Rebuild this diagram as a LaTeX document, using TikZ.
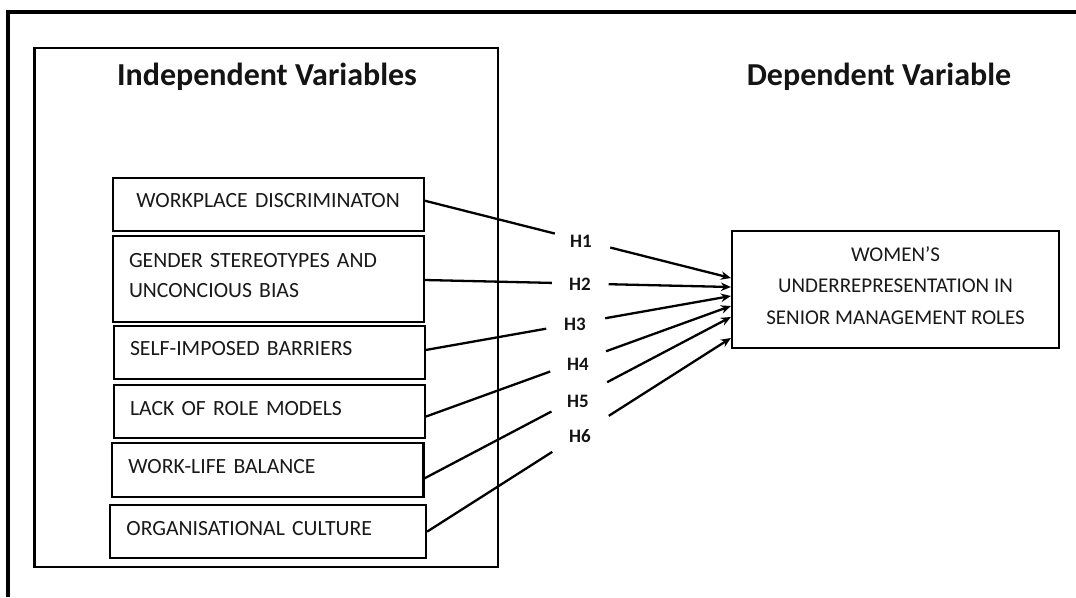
\documentclass[tikz,border=0pt]{standalone}
\usepackage{fontspec}
\setmainfont{Carlito}
\usetikzlibrary{calc,arrows.meta}
\newcommand\myTightSpace{\spaceskip=3.7pt plus 0.5pt\relax}
\tikzset{
  varbox/.style={draw=black, line width=2.2pt, minimum height=#1, inner xsep=16.4pt, inner ysep=0pt,
    text depth=7pt, font={\fontsize{21.7}{30.3}\selectfont\myTightSpace}, text=black!90},
  varbox/.default=53pt,
  lbox/.style={align=left},
  hlab/.style={font=\bfseries\fontsize{19}{22}\selectfont, text=black!92},
  conn/.style={line width=2.3pt},
  arr/.style={line width=2.3pt, -{Stealth[length=10pt,width=8.5pt]}},
  title/.style={font=\bfseries\fontsize{32}{36}\selectfont, text=black!92}
}
\begin{document}
\begin{tikzpicture}[x=1pt,y=-1pt]
\useasboundingbox (0,0) rectangle (1076,597);
\fill[white] (0,0) rectangle (1076,597);
% outer frame (top and left only)
\draw[line width=4pt] (1076,12) -- (7.7,12) -- (7.7,597);
% big box
\draw[line width=2.2pt] (34.4,48.3) rectangle (498.3,567);
\node[title] (tind) at (267,77) {Independent Variables};
\node[title] (tdep) at (879,77) {Dependent Variable};
% independent variable boxes
\node[varbox=53pt, text width=278.2pt, align=center] (b1) at (268.1,204.2) {WORKPLACE DISCRIMINATON};
\node[varbox=86pt, text width=278.2pt, lbox, text depth=37.3pt] (b2) at (268.1,278.7) {GENDER STEREOTYPES AND\\UNCONCIOUS BIAS};
\node[varbox=53.3pt, text width=278.2pt, lbox] (b3) at (269.1,352.35) {SELF-IMPOSED BARRIERS};
\node[varbox=53.3pt, text width=278.2pt, lbox] (b4) at (269.1,411.65) {LACK OF ROLE MODELS};
\node[varbox=54pt, text width=278.7pt, lbox] (b5) at (267.75,470.3) {WORK-LIFE BALANCE};
\node[varbox=53.3pt, text width=283.2pt, lbox] (b6) at (268,531.65) {ORGANISATIONAL CULTURE};
% dependent variable box
\node[draw=black, line width=2.2pt, minimum width=327pt, minimum height=117pt, align=center,
  text depth=8pt, font=\fontsize{21}{31.5}\selectfont, text=black!90] (tgt) at (895.5,289.5)
  {WOMEN’S\\UNDERREPRESENTATION IN\\SENIOR MANAGEMENT ROLES};
% connector ends
\coordinate (s1) at ([yshift=3.5pt]b1.east);
\coordinate (s2) at ([yshift=-1.3pt]b2.east);
\coordinate (s3) at ([yshift=2.35pt]b3.east);
\coordinate (s4) at ([yshift=-5pt]b4.east);
\coordinate (s5) at ([yshift=-8pt]b5.east);
\coordinate (s6) at ([yshift=0pt]b6.east);
\coordinate (t1) at (tgt.west |- 0,278);
\coordinate (t2) at (tgt.west |- 0,287);
\coordinate (t3) at (tgt.west |- 0,296);
\coordinate (t4) at (tgt.west |- 0,306);
\coordinate (t5) at (tgt.west |- 0,317);
\coordinate (t6) at (tgt.west |- 0,338);
% connectors with gaps for labels
\foreach \i/\a/\b in {1/0.425/0.606, 2/0.415/0.601, 3/0.395/0.588, 4/0.408/0.591, 5/0.414/0.596, 6/0.412/0.598}{
  \draw[conn] (s\i) -- ($(s\i)!\a!(t\i)$);
  \draw[arr] ($(s\i)!\b!(t\i)$) -- (t\i);
}
\node[hlab] (h1) at (581,241) {H1};
\node[hlab] (h2) at (580,284) {H2};
\node[hlab] (h3) at (575,324) {H3};
\node[hlab] (h4) at (578,364) {H4};
\node[hlab] (h5) at (578,401) {H5};
\node[hlab] (h6) at (580,436) {H6};
\end{tikzpicture}
\end{document}
